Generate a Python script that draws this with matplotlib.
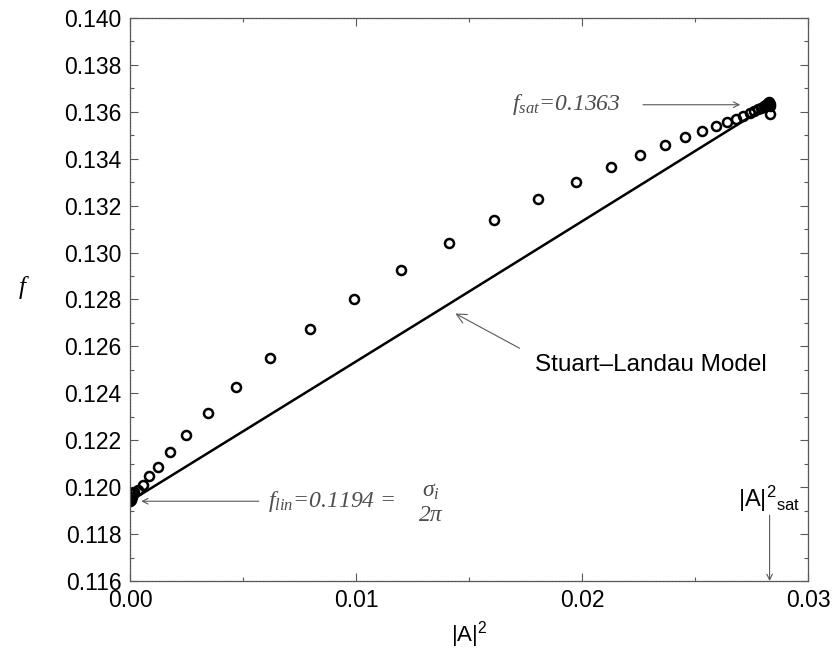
import numpy as np
import matplotlib
matplotlib.use('Agg')
import matplotlib.pyplot as plt
from matplotlib.ticker import MultipleLocator, FormatStrFormatter

plt.rcParams['font.family'] = ['Liberation Sans', 'DejaVu Sans']
plt.rcParams['mathtext.default'] = 'regular'

# frequency vs squared amplitude (open circles)
amp2 = [0.00002, 0.00004, 0.00006, 0.0001, 0.00013, 0.00018, 0.00037, 0.00056,
        0.00084, 0.00123, 0.00177, 0.0025, 0.00345, 0.00469, 0.0062, 0.00796,
        0.00991, 0.012, 0.0141, 0.01612, 0.01804, 0.01975, 0.02127, 0.02255,
        0.02366, 0.02456, 0.0253, 0.02592, 0.0264, 0.02681, 0.02714, 0.02743,
        0.0276, 0.02777, 0.02792, 0.02804, 0.02814, 0.0282, 0.02825, 0.02828,
        0.0283, 0.0283, 0.0283]
freq = [0.1194, 0.11945, 0.1195, 0.1196, 0.1197, 0.11978, 0.1199, 0.12009,
        0.12046, 0.12085, 0.12149, 0.12222, 0.12318, 0.12425, 0.12549, 0.12674,
        0.12803, 0.12927, 0.1304, 0.1314, 0.1323, 0.13302, 0.13366, 0.13415,
        0.13457, 0.13491, 0.1352, 0.1354, 0.13557, 0.13571, 0.13582, 0.13595,
        0.13603, 0.1361, 0.13617, 0.13623, 0.13628, 0.13632, 0.13636, 0.1364,
        0.13635, 0.13625, 0.1359]

# Stuart-Landau model curve
sl_amp2 = [0.0, 0.01372, 0.0283]
sl_freq = [0.1194, 0.12757, 0.1363]

f_lin = 0.1194
f_sat = 0.1363
amp2_sat = 0.0283

fig = plt.figure(figsize=(8.33, 6.54), dpi=100)
ax = fig.add_axes([0.156, 0.1116, 0.814, 0.861])

ax.plot(sl_amp2, sl_freq, color='black', lw=1.8)
ax.plot(amp2, freq, 'o', mfc='none', mec='black', ms=6.5, mew=1.8)

ax.set_xlim(0, 0.03)
ax.set_ylim(0.116, 0.140)
ax.xaxis.set_major_locator(MultipleLocator(0.01))
ax.xaxis.set_minor_locator(MultipleLocator(0.005))
ax.yaxis.set_major_locator(MultipleLocator(0.002))
ax.yaxis.set_minor_locator(MultipleLocator(0.001))
ax.xaxis.set_major_formatter(FormatStrFormatter('%.2f'))
ax.yaxis.set_major_formatter(FormatStrFormatter('%.3f'))
ax.tick_params(which='both', direction='in', top=True, right=True,
               color='0.35', width=0.8, labelsize=16.5, pad=6)
ax.tick_params(which='major', length=6)
ax.tick_params(which='minor', length=3)
for s in ax.spines.values():
    s.set_color('0.35')
    s.set_linewidth(0.9)
    s.set_linestyle((0, (2, 0.6)))

ax.set_xlabel('|A|$^2$', fontsize=16, labelpad=5)
ax.set_ylabel('f', fontsize=18, family='Liberation Serif', style='italic',
              rotation=0, labelpad=30)

arr = dict(arrowstyle='->', color='0.35', lw=0.8, shrinkA=0, shrinkB=0)
serif = dict(family='Liberation Serif', style='italic', color='0.3', fontsize=17)

ax.annotate('', xy=(0.0270, f_sat), xytext=(0.0227, f_sat), arrowprops=arr)
ax.text(0.0169, f_sat, 'f$_{sat}$=0.1363', va='center', **serif)

ax.annotate('Stuart\u2013Landau Model', xy=(0.0144, 0.1274),
            xytext=(0.0179, 0.1252), fontsize=17.5, va='center', ha='left',
            arrowprops=dict(arrowstyle='->', color='0.35', lw=0.8,
                            shrinkA=10, shrinkB=0,
                            relpos=(0, 0.9)))

ax.annotate('', xy=(0.0005, f_lin), xytext=(0.0057, f_lin), arrowprops=arr)
ax.text(0.0061, f_lin, 'f$_{lin}$=0.1194 =', va='center', **serif)
ax.text(0.0133, f_lin + 0.0004, '\u03c3$_i$', ha='center', va='center', **serif)
ax.text(0.0133, f_lin - 0.0006, '2\u03c0', ha='center', va='center', **serif)

ax.annotate('', xy=(amp2_sat, 0.116), xytext=(amp2_sat, 0.1188), arrowprops=arr)
ax.text(amp2_sat, 0.1195, '|A|$^2$$_{sat}$', ha='center', va='center', fontsize=17)

fig.savefig('out.png', dpi=100)
